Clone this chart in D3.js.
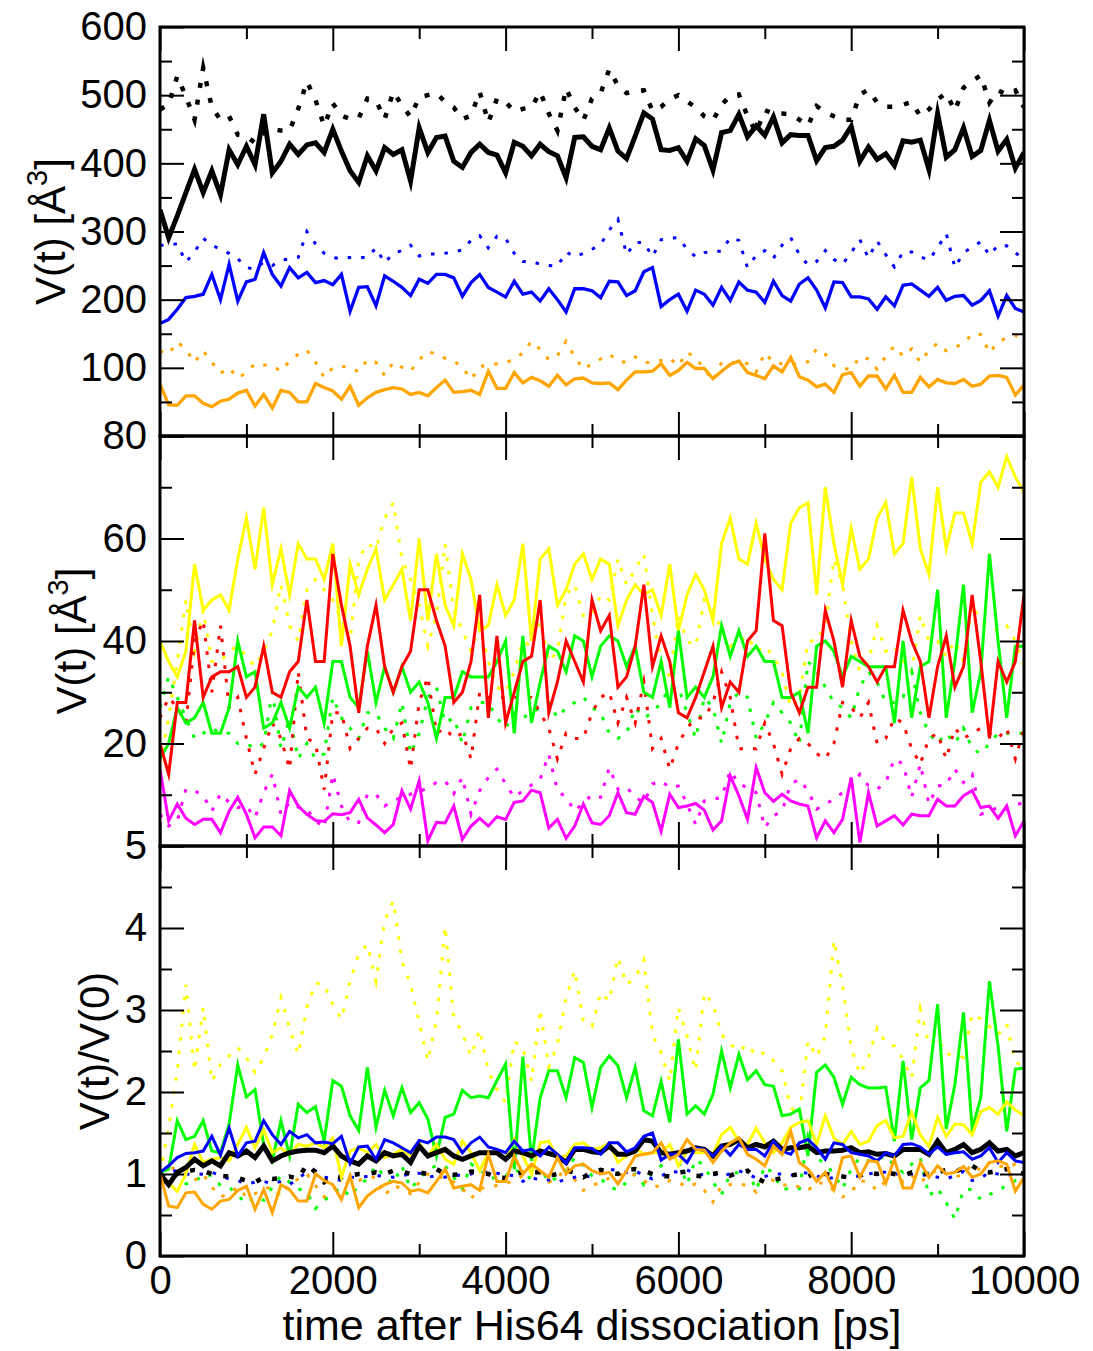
<!DOCTYPE html>
<html>
<head>
<meta charset="utf-8">
<script src="https://cdn.jsdelivr.net/npm/d3@7/dist/d3.min.js"></script>
<style>
  body { margin: 0; background: #fff; }
  text { font-family: "Liberation Sans", Arial, Helvetica, sans-serif; }
</style>
</head>
<body>
<script>
// time axis, one sample every 100 ps
var time = d3.range(0, 10001, 100);

// ---- top panel, V(t) in A^3
var topBlackSolid = [332,291,323,357,391,357,389,354,420,398,
  425,398,472,386,403,428,413,427,430,416,
  450,418,389,372,411,389,423,413,420,374,
  452,416,438,440,403,394,416,428,416,412,
  386,431,425,411,428,417,411,379,438,439,
  425,420,452,418,407,440,474,465,420,419,
  423,403,436,426,390,445,448,472,439,455,
  441,468,430,442,441,441,404,423,425,434,
  454,403,424,406,414,397,433,431,434,391,
  473,409,420,452,410,419,463,418,435,393,416];
var topBlackDot = [479,486,528,498,464,540,482,464,469,442,
  440,430,445,450,448,448,480,520,493,455,
  488,470,465,466,495,492,465,505,485,468,
  497,500,503,490,482,465,470,505,460,495,
  490,476,480,482,505,473,448,510,482,463,
  495,503,538,514,503,506,507,477,483,494,
  500,491,482,469,463,486,499,501,469,445,
  478,473,473,472,464,455,484,475,469,464,
  464,501,508,489,483,483,486,490,469,479,
  494,503,477,511,521,529,489,507,501,507,482];
var topBlueSolid = [165,171,186,203,205,208,237,200,252,198,
  226,230,269,237,220,247,232,240,225,228,
  222,237,183,218,219,191,235,227,218,206,
  230,224,237,237,232,205,225,237,218,211,
  204,227,208,211,198,216,200,182,216,216,
  213,203,227,226,206,213,241,247,190,200,
  208,183,214,208,192,218,199,226,214,211,
  196,227,206,198,223,232,214,188,226,225,
  204,204,201,186,204,191,221,223,214,205,
  218,199,205,206,192,199,213,176,206,187,182];
var topBlueDot = [280,280,282,255,270,290,280,274,268,260,
  247,245,255,250,258,260,262,300,282,268,
  262,260,262,262,262,276,254,268,272,280,
  264,267,267,268,270,273,287,294,276,293,
  290,268,256,256,252,250,249,270,263,268,
  274,281,302,318,266,284,284,263,288,290,
  291,274,263,269,271,271,291,287,247,265,
  272,261,280,291,266,251,256,272,259,252,
  269,288,261,286,266,248,270,270,263,258,
  276,297,247,269,277,285,265,280,279,269,259];
var topOrangeSolid = [76,46,45,59,59,48,43,51,54,63,
  67,44,61,41,67,64,50,50,77,71,
  66,54,73,45,56,64,68,71,69,61,
  64,59,71,82,64,65,67,61,95,70,
  70,93,78,86,81,73,89,75,84,85,
  78,77,78,68,82,94,94,95,106,89,
  96,108,99,99,84,95,105,110,93,89,
  84,103,94,115,87,82,72,76,64,90,
  93,73,88,88,69,89,64,64,86,72,
  83,78,77,83,73,76,88,89,86,60,75];
var topOrangeDot = [125,120,138,127,108,125,108,92,100,85,
  93,106,104,103,95,110,120,126,108,86,
  100,102,101,94,112,108,89,108,101,95,
  112,124,120,114,110,101,83,102,104,106,
  108,112,122,139,127,112,118,139,116,98,
  106,113,120,110,108,116,108,108,111,114,
  103,123,115,98,81,108,108,108,106,94,
  122,108,106,105,108,109,128,120,103,99,
  98,116,113,98,117,132,117,128,108,126,
  136,125,130,136,150,149,122,138,144,148,140];

// ---- middle panel, V(t) in A^3
var midYellowSolid = [40,36,33,38,55,46,48,49,46,56,
  64,54,66,51,58,49,59,56,56,52,
  59,39,55,49,54,58,48,51,54,44,
  60,44,57,47,43,57,52,42,43,51,
  45,48,59,40,56,58,47,50,55,57,
  52,56,55,43,48,51,49,50,45,55,
  42,49,53,50,44,59,64,56,55,63,
  56,52,50,63,66,67,49,70,59,51,
  62,54,56,64,67,57,59,72,58,53,
  70,58,65,65,59,71,73,70,76,72,69];
var midYellowDot = [16,25,36,48,38,46,36,36,38,39,
  37,35,38,42,51,43,40,50,52,50,
  48,44,40,56,59,58,64,67,56,52,
  47,39,45,59,46,42,38,43,36,31,
  30,34,40,39,44,36,38,49,51,45,
  45,49,48,56,51,54,57,45,36,33,
  45,40,39,48,46,42,39,40,41,38,
  39,37,34,27,29,40,40,43,56,51,
  40,34,36,43,38,39,36,34,45,40,
  40,37,40,36,47,44,43,42,43,40,35];
var midRedSolid = [20,14,28,28,44,29,33,34,34,35,
  29,31,39,30,29,34,36,48,36,36,
  57,47,39,26,39,47,35,30,35,38,
  50,50,44,39,28,30,36,49,25,41,
  24,30,36,37,48,26,32,40,36,32,
  48,42,45,31,33,39,51,35,41,36,
  26,25,29,34,39,27,32,30,40,42,
  61,44,43,30,26,31,31,46,40,31,
  44,37,35,32,35,35,46,40,36,25,
  35,41,31,35,49,36,21,36,32,36,49];
var midRedDot = [25,29,27,24,40,44,30,43,27,29,
  21,14,19,24,21,15,34,21,20,11,
  26,26,19,21,23,23,20,23,24,15,
  28,33,22,23,21,22,17,30,29,29,
  29,29,29,29,26,23,17,22,21,21,
  26,29,30,24,29,24,32,19,21,15,
  20,23,25,25,28,34,29,19,19,19,
  24,20,14,19,21,20,18,17,20,28,
  27,25,28,20,21,25,24,19,16,21,
  22,17,23,21,22,23,22,21,23,17,23];
var midGreenSolid = [17,20,27,24,25,28,22,22,27,40,
  33,34,23,24,28,23,31,29,31,24,
  36,36,29,27,38,28,35,30,35,30,
  32,28,21,29,29,34,33,33,33,36,
  40,22,41,24,32,39,38,34,41,40,
  33,39,41,40,35,39,30,29,36,27,
  42,29,31,29,33,43,37,42,37,39,
  36,36,29,29,30,22,39,40,38,33,
  37,36,35,35,35,24,40,25,35,36,
  50,25,36,51,26,34,57,40,25,39,39];
var midGreenDot = [27,33,29,25,21,22,23,22,22,20,
  20,19,20,30,19,25,17,20,17,18,
  29,25,23,21,26,26,23,21,28,18,
  22,29,31,24,25,20,27,28,28,25,
  23,26,25,26,27,28,25,27,28,29,
  27,26,22,21,22,27,25,26,28,31,
  31,26,21,29,27,20,28,30,29,21,
  24,28,26,24,20,36,34,31,28,27,
  25,31,34,32,28,28,29,34,26,22,
  20,22,20,23,19,18,20,22,22,22,22];
var midMagentaSolid = [15,4.9,8.2,5.4,4.2,5.2,5.2,2.6,6.8,9.5,
  6.2,1.6,3.7,3.7,2,10.8,7.8,6.2,5,4.8,
  6.3,6.1,6.5,9.1,5.5,4.1,2.6,4.2,10.8,7.2,
  12.7,1,4.6,4.5,7.8,1.3,3.9,5.4,3.9,5.7,
  5.2,8.5,8.8,10.9,10.4,3.5,5.2,1.5,3.9,8.2,
  4.5,4.2,5.9,10.4,6.5,6.2,9.7,8.5,2.9,10.1,
  7.5,7.8,8.3,7,3.1,4.9,13.7,9.8,5.2,15.3,
  10.4,8.7,10.1,8.8,8.2,7.8,1.6,4.9,2.6,5.2,
  13.4,0.7,10.4,3.9,4.9,5.9,4.1,6.2,5.9,5.9,
  9.1,7.8,7.8,9.8,10.8,7.5,7.8,5.4,7.8,2,4.9];
var midMagentaDot = [6.2,3.9,4.9,11.1,10.8,9.8,6.8,10.2,8.5,7.5,
  7.8,5.5,10.4,14,6.2,8.5,7.6,7.2,4.9,3.6,
  14,7.8,4.6,4.6,10.1,10.1,7.8,8.9,9.5,10.1,
  10.6,11.4,12.4,12.7,10.2,13.4,6.2,10.8,13.4,15,
  12.1,9.5,10.8,11.9,13,17.9,10.8,9.5,6.8,8.5,
  10,9.5,15.3,11.1,11.5,9.5,8.5,12.1,12.7,11.4,
  11.7,8.2,4.2,8.8,9.1,9.5,14.7,12.1,11.4,10.4,
  3.6,5.9,6.8,12.1,13,10.8,7.2,8.2,9.1,10.4,
  11.7,14,11.7,11.1,12.4,17,16,9.5,16,8.2,
  11.7,11.9,15,12.4,14,6.2,6.8,7.6,7.2,8,8.5];

// ---- bottom panel, V(t)/V(0)
var botGreenSolid = [1.02,1.06,1.65,1.42,1.46,1.65,1.28,1.26,1.61,2.33,
  1.94,2.03,1.36,1.16,1.65,1.22,1.85,1.75,1.82,1.4,
  2.14,2.07,1.71,1.53,2.3,1.57,2.02,1.71,2.05,1.75,
  1.87,1.67,1.22,1.69,1.73,2.02,1.93,1.95,1.93,2.14,
  2.34,1.06,2.43,1.16,1.93,2.26,2.26,1.93,2.42,2.36,
  1.81,2.3,2.44,2.32,1.93,2.3,1.77,1.71,2.13,1.63,
  2.64,1.73,1.83,1.73,1.97,2.5,2.05,2.46,2.15,2.26,
  2.09,2.07,1.71,1.73,1.79,1.22,2.24,2.33,2.18,1.85,
  2.18,2.09,2.05,2.05,2.06,1.4,2.38,1.42,2.05,2.14,
  3.07,1.55,2.09,2.97,1.55,1.93,3.35,2.56,1.52,2.28,2.29];
var botGreenDot = [1.0,0.86,1.0,0.88,0.9,1.0,0.98,0.86,0.84,0.74,
  0.64,0.72,0.68,0.84,0.98,0.9,0.82,0.78,0.58,0.68,
  0.76,0.84,0.72,0.86,0.94,1.1,0.96,0.88,1.1,0.82,
  0.94,1.06,1.1,1.1,0.96,0.82,1.12,1.06,0.94,0.96,
  0.98,1.06,1.0,0.94,1.08,0.9,0.96,1.04,1.2,1.1,
  0.98,0.94,0.85,0.8,0.9,1.0,0.87,1.02,1.1,1.22,
  1.16,0.87,1.18,1.1,0.9,0.75,1.0,1.02,1.06,0.8,
  1.1,1.0,0.81,0.83,0.82,1.46,1.2,1.12,1.0,0.82,
  1.06,1.2,1.16,1.18,1.22,1.1,1.02,1.12,1.2,0.73,
  0.83,0.65,0.45,0.81,0.81,0.69,0.75,0.8,0.86,0.92,0.95];
var botYellowSolid = [1.0,0.89,0.79,1.0,1.36,1.14,1.18,1.2,1.16,1.36,
  1.57,1.32,1.54,1.26,1.32,1.24,1.36,1.34,1.38,1.32,
  1.44,0.96,1.28,1.32,1.26,1.36,1.2,1.24,1.3,1.22,
  1.38,1.22,1.36,1.18,1.12,1.4,1.26,1.04,1.26,1.26,
  1.2,1.42,1.22,1.0,1.38,1.4,1.2,1.22,1.36,1.38,
  1.3,1.32,1.38,1.14,1.22,1.32,1.24,1.26,1.26,1.36,
  1.1,1.28,1.26,1.26,1.24,1.48,1.57,1.4,1.36,1.56,
  1.38,1.26,1.38,1.57,1.63,1.65,1.36,1.71,1.44,1.36,
  1.52,1.36,1.4,1.59,1.65,1.44,1.46,1.75,1.48,1.34,
  1.69,1.46,1.61,1.6,1.48,1.76,1.81,1.73,1.88,1.78,1.71];
var botYellowDot = [1.0,1.57,2.26,3.31,2.26,3.03,2.13,2.34,2.44,2.54,
  2.42,2.24,2.42,2.7,3.15,2.78,2.46,3.03,3.33,3.31,
  3.07,2.89,3.35,3.68,3.8,3.35,4.09,4.33,3.6,3.31,
  2.85,2.38,2.87,4.02,2.91,2.72,2.44,2.76,2.26,2.03,
  1.87,2.62,2.54,2.13,3.01,2.3,2.58,3.15,3.48,2.87,
  2.8,3.21,3.11,3.64,3.31,3.39,3.61,2.7,2.48,2.13,
  3.03,2.68,2.26,3.21,3.07,2.7,2.58,2.5,2.58,2.44,
  2.48,2.38,2.26,1.81,1.71,2.62,2.43,2.68,3.85,3.3,
  2.54,2.22,2.42,2.78,2.6,2.56,2.4,2.17,3.01,2.58,
  2.66,2.46,2.46,2.42,2.95,2.89,2.8,2.7,2.83,2.36,2.32];
var botBlueSolid = [1.02,1.1,1.2,1.25,1.26,1.28,1.46,1.23,1.56,1.22,
  1.38,1.4,1.65,1.48,1.36,1.52,1.44,1.48,1.38,1.39,
  1.37,1.46,1.13,1.33,1.34,1.18,1.42,1.38,1.32,1.26,
  1.41,1.38,1.45,1.45,1.42,1.26,1.38,1.45,1.33,1.3,
  1.26,1.4,1.28,1.3,1.22,1.33,1.24,1.13,1.32,1.32,
  1.31,1.24,1.38,1.38,1.27,1.32,1.46,1.5,1.17,1.24,
  1.24,1.14,1.32,1.3,1.22,1.34,1.23,1.36,1.3,1.3,
  1.22,1.4,1.28,1.24,1.38,1.42,1.32,1.18,1.38,1.36,
  1.26,1.24,1.22,1.16,1.26,1.22,1.36,1.37,1.33,1.24,
  1.33,1.24,1.26,1.27,1.18,1.22,1.32,1.14,1.26,1.16,1.14];
var botBlueDot = [1.0,1.03,1.04,1.0,0.99,1.0,1.02,0.98,0.94,0.92,
  0.88,0.9,0.91,0.88,0.91,0.87,0.95,1.02,1.04,0.96,
  0.95,0.92,0.96,0.96,0.97,0.98,0.97,0.96,0.98,1.0,
  1.01,0.96,0.98,0.96,0.99,0.98,1.0,1.03,1.03,1.01,
  0.99,0.98,0.91,0.96,0.92,0.93,0.9,0.94,0.96,0.98,
  0.96,1.01,1.06,1.04,1.02,1.04,0.98,0.94,0.97,1.04,
  1.02,1.05,1.0,0.99,1.0,0.98,1.0,1.04,1.0,0.95,
  0.97,1.0,1.0,0.98,1.02,1.01,0.98,0.93,0.96,0.96,
  0.98,0.97,1.0,1.02,1.02,1.0,1.0,1.0,0.98,1.0,
  0.96,0.94,0.98,1.03,0.92,0.95,1.02,1.0,0.99,0.98,1.02];
var botBlackSolid = [1.0,0.87,1.02,1.08,1.18,1.1,1.16,1.1,1.26,1.22,
  1.28,1.2,1.34,1.16,1.22,1.26,1.28,1.29,1.29,1.26,
  1.34,1.22,1.16,1.12,1.22,1.16,1.26,1.22,1.24,1.14,
  1.34,1.22,1.26,1.3,1.22,1.18,1.22,1.26,1.26,1.26,
  1.18,1.28,1.26,1.22,1.28,1.25,1.22,1.14,1.3,1.3,
  1.27,1.26,1.34,1.24,1.24,1.28,1.42,1.4,1.26,1.24,
  1.26,1.28,1.32,1.3,1.22,1.34,1.36,1.42,1.32,1.36,
  1.33,1.4,1.3,1.32,1.32,1.34,1.26,1.28,1.28,1.29,
  1.32,1.26,1.27,1.24,1.25,1.22,1.3,1.3,1.3,1.24,
  1.4,1.26,1.3,1.36,1.26,1.3,1.38,1.28,1.3,1.22,1.26];
var botBlackDot = [1.0,0.93,1.0,1.03,1.05,1.04,1.0,0.98,0.97,0.95,
  0.92,0.9,0.96,0.94,0.95,0.97,0.94,1.12,1.02,0.9,
  0.98,0.96,0.98,1.0,1.0,1.02,1.0,1.04,1.03,1.0,
  1.02,1.0,1.06,1.0,0.99,1.0,1.03,1.02,1.0,0.96,
  0.95,1.0,1.02,1.02,1.02,0.98,1.0,1.04,1.02,0.96,
  1.02,1.05,1.02,1.0,1.05,1.06,1.04,1.0,0.98,0.97,
  1.02,1.03,0.98,0.97,1.0,1.02,0.98,1.02,1.04,0.95,
  0.9,0.93,0.95,0.98,1.0,0.97,1.02,1.0,0.98,0.97,
  0.95,0.98,1.02,1.0,1.02,1.0,0.98,1.02,1.0,1.0,
  1.02,1.05,1.02,1.08,1.1,1.03,1.02,1.04,1.06,1.04,1.0];
var botOrangeSolid = [1.0,0.61,0.59,0.77,0.78,0.63,0.57,0.67,0.69,0.8,
  0.85,0.57,0.81,0.53,0.87,0.81,0.67,0.67,1.0,0.92,
  0.87,0.69,0.98,0.59,0.73,0.81,0.87,0.91,0.89,0.79,
  0.81,0.77,0.91,1.06,0.83,0.85,0.87,0.8,1.24,0.91,
  0.91,1.22,1.0,1.12,1.04,0.96,1.2,1.0,1.1,1.12,
  1.04,1.0,1.02,0.88,1.04,1.22,1.24,1.26,1.38,1.18,
  1.24,1.42,1.3,1.29,1.14,1.28,1.38,1.44,1.24,1.18,
  1.1,1.34,1.24,1.52,1.14,1.06,0.91,1.02,0.81,1.2,
  1.22,0.96,1.16,1.15,0.89,1.18,0.83,0.83,1.14,0.96,
  1.1,1.0,1.02,1.09,0.96,1.0,1.14,1.16,1.12,0.79,0.96];
var botOrangeDot = [1.0,1.08,1.06,1.0,0.92,1.0,0.84,0.72,0.76,0.84,
  0.72,0.76,0.82,0.84,0.73,0.88,0.94,1.0,0.86,0.72,
  0.82,0.86,0.9,0.92,0.96,0.96,0.74,0.86,0.82,0.76,
  0.9,1.0,0.98,0.94,0.9,0.82,0.7,0.82,0.84,0.86,
  0.88,0.92,0.98,1.1,1.02,0.9,0.94,1.1,0.93,0.8,
  0.86,0.9,0.95,0.99,1.0,0.99,0.92,0.84,0.86,0.92,
  0.9,0.84,0.88,0.8,0.66,0.86,0.87,0.88,0.86,0.78,
  0.96,0.92,0.86,0.88,0.84,0.8,0.9,0.88,0.8,0.72,
  0.78,0.92,0.9,0.8,0.92,1.02,0.9,0.98,0.9,0.98,
  1.06,1.0,0.96,1.0,1.12,1.04,1.14,1.1,1.08,1.12,1.06];

// tick values
var topTicks = [0,100,200,300,400,500,600];
var topMinor = [50,150,250,350,450,550];
var topLabels = [100,200,300,400,500,600];
var midTicks = [0,20,40,60,80];
var midMinor = [10,30,50,70];
var midLabels = [20,40,60,80];
var botTicks = [0,1,2,3,4,5];
var botMinor = [0.5,1.5,2.5,3.5,4.5];
var botLabels = [0,1,2,3,4,5];
var xTicks = [0,2000,4000,6000,8000,10000];
var xMinor = [1000,3000,5000,7000,9000];

var W = 1093, H = 1351;
var left = 160, right = 1024;
var FONT = '"Liberation Sans", Arial, Helvetica, sans-serif';

var svg = d3.select('body').append('svg')
    .attr('width', W)
    .attr('height', H);

var x = d3.scaleLinear().domain([0, 10000]).range([left, right]);

var panels = [
  {id: 'top', y0: 27, y1: 436, dom: [0, 600], ticks: topTicks, minor: topMinor, labels: topLabels,
   title: 'vol', tx: 65,
   series: [
     {d: topOrangeDot, c: '#ffa500', w: 3, dot: true},
     {d: topBlueDot, c: '#0000ff', w: 3, dot: true},
     {d: topBlackDot, c: '#000000', w: 4.5, dot: true},
     {d: topOrangeSolid, c: '#ffa500', w: 3.3},
     {d: topBlueSolid, c: '#0000ff', w: 3.3},
     {d: topBlackSolid, c: '#000000', w: 5}
   ]},
  {id: 'mid', y0: 436, y1: 846, dom: [0, 80], ticks: midTicks, minor: midMinor, labels: midLabels,
   title: 'vol', tx: 86,
   series: [
     {d: midYellowDot, c: '#ffff00', w: 3, dot: true},
     {d: midGreenDot, c: '#00ff00', w: 3, dot: true},
     {d: midRedDot, c: '#ff0000', w: 3, dot: true},
     {d: midMagentaDot, c: '#ff00ff', w: 3, dot: true},
     {d: midYellowSolid, c: '#ffff00', w: 3},
     {d: midGreenSolid, c: '#00ff00', w: 3},
     {d: midRedSolid, c: '#ff0000', w: 3},
     {d: midMagentaSolid, c: '#ff00ff', w: 3}
   ]},
  {id: 'bot', y0: 846, y1: 1256, dom: [0, 5], ticks: botTicks, minor: botMinor, labels: botLabels,
   title: 'ratio', tx: 109,
   series: [
     {d: botYellowDot, c: '#ffff00', w: 3, dot: true},
     {d: botGreenDot, c: '#00ff00', w: 3, dot: true},
     {d: botOrangeDot, c: '#ffa500', w: 3, dot: true},
     {d: botBlueDot, c: '#0000ff', w: 3, dot: true},
     {d: botBlackDot, c: '#000000', w: 4.5, dot: true},
     {d: botGreenSolid, c: '#00ff00', w: 3},
     {d: botYellowSolid, c: '#ffff00', w: 3},
     {d: botBlackSolid, c: '#000000', w: 5},
     {d: botBlueSolid, c: '#0000ff', w: 3},
     {d: botOrangeSolid, c: '#ffa500', w: 3}
   ]}
];

var defs = svg.append('defs');

panels.forEach(function(p, pi) {
  var y = d3.scaleLinear().domain(p.dom).range([p.y1, p.y0]);
  var g = svg.append('g').attr('class', 'panel ' + p.id);

  defs.append('clipPath').attr('id', 'clip-' + p.id)
    .append('rect')
    .attr('x', left).attr('y', p.y0)
    .attr('width', right - left).attr('height', p.y1 - p.y0);

  var line = d3.line()
    .x(function(d, i) { return x(time[i]); })
    .y(function(d) { return y(d); });

  var lines = g.append('g').attr('clip-path', 'url(#clip-' + p.id + ')');
  p.series.forEach(function(s) {
    lines.append('path')
      .attr('d', line(s.d))
      .attr('fill', 'none')
      .attr('stroke', s.c)
      .attr('stroke-width', s.w)
      .attr('stroke-linejoin', 'miter')
      .attr('stroke-miterlimit', 6)
      .attr('stroke-dasharray', s.dot ? (s.w > 4 ? '5,12' : '3.5,10') : null);
  });

  // ticks, all four sides, pointing inwards
  function styleAxis(sel) {
    sel.select('.domain').remove();
    sel.selectAll('.tick line').attr('stroke', '#000').attr('stroke-width', 2);
  }
  var fmt = function(d) { return p.labels.indexOf(d) >= 0 ? d : ''; };

  g.append('g').attr('transform', 'translate(' + left + ',0)')
    .call(d3.axisLeft(y).tickValues(p.ticks).tickSize(-24).tickPadding(13).tickFormat(fmt))
    .call(styleAxis)
    .selectAll('text').attr('font-size', 40).attr('fill', '#000')
    .attr('font-family', FONT);
  g.append('g').attr('transform', 'translate(' + left + ',0)')
    .call(d3.axisLeft(y).tickValues(p.minor).tickSize(-12).tickFormat(''))
    .call(styleAxis);
  g.append('g').attr('transform', 'translate(' + right + ',0)')
    .call(d3.axisRight(y).tickValues(p.ticks).tickSize(-24).tickFormat(''))
    .call(styleAxis);
  g.append('g').attr('transform', 'translate(' + right + ',0)')
    .call(d3.axisRight(y).tickValues(p.minor).tickSize(-12).tickFormat(''))
    .call(styleAxis);

  g.append('g').attr('transform', 'translate(0,' + p.y0 + ')')
    .call(d3.axisTop(x).tickValues(xTicks).tickSize(-24).tickFormat(''))
    .call(styleAxis);
  g.append('g').attr('transform', 'translate(0,' + p.y0 + ')')
    .call(d3.axisTop(x).tickValues(xMinor).tickSize(-12).tickFormat(''))
    .call(styleAxis);
  var isLast = pi === panels.length - 1;
  g.append('g').attr('transform', 'translate(0,' + p.y1 + ')')
    .call(d3.axisBottom(x).tickValues(xTicks).tickSize(-24).tickPadding(10)
      .tickFormat(isLast ? d3.format('d') : ''))
    .call(styleAxis)
    .selectAll('text').attr('font-size', 40).attr('fill', '#000')
    .attr('font-family', FONT);
  g.append('g').attr('transform', 'translate(0,' + p.y1 + ')')
    .call(d3.axisBottom(x).tickValues(xMinor).tickSize(-12).tickFormat(''))
    .call(styleAxis);

  // frame
  g.append('rect')
    .attr('x', left).attr('y', p.y0)
    .attr('width', right - left).attr('height', p.y1 - p.y0)
    .attr('fill', 'none').attr('stroke', '#000').attr('stroke-width', 3);

  // y title
  var t = g.append('text')
    .attr('transform', 'translate(' + p.tx + ',' + ((p.y0 + p.y1) / 2) + ') rotate(-90)')
    .attr('text-anchor', 'middle')
    .attr('font-size', 42);
  if (p.title === 'vol') {
    t.append('tspan').text('V(t) [\u00c5');
    t.append('tspan').attr('font-size', 29).attr('dy', -18).text('3');
    t.append('tspan').attr('dy', 18).text(']');
  } else {
    t.text('V(t)/V(0)');
  }
});

svg.append('text')
  .attr('x', (left + right) / 2)
  .attr('y', 1340)
  .attr('text-anchor', 'middle')
  .attr('font-size', 43)
  .text('time after His64 dissociation [ps]');
</script>
</body>
</html>
